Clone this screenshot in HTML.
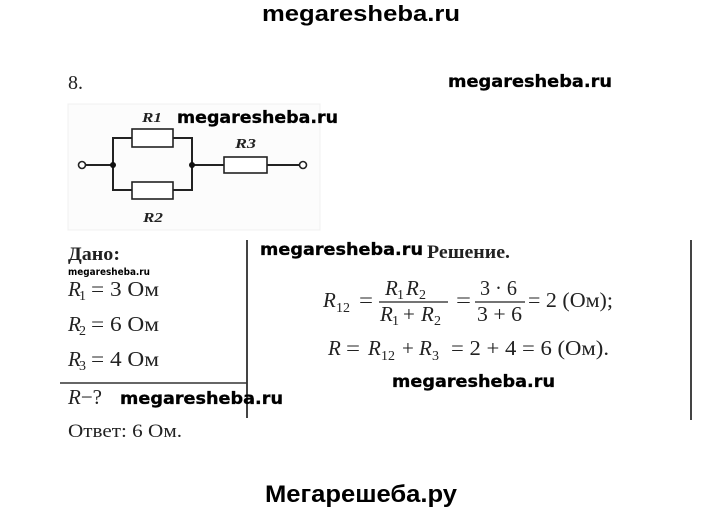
<!DOCTYPE html>
<html>
<head>
<meta charset="utf-8">
<style>
html,body{margin:0;padding:0;background:#fff;}
svg{display:block;}
.wm{font-family:"DejaVu Sans","Liberation Sans",sans-serif;font-weight:bold;fill:#000;}
.ser{font-family:"Liberation Serif","DejaVu Serif",serif;fill:#222;}
.it{font-style:italic;}
</style>
</head>
<body>
<svg width="720" height="513" viewBox="0 0 720 513" xmlns="http://www.w3.org/2000/svg">
<rect x="0" y="0" width="720" height="513" fill="#fff"/>

<!-- top watermark -->
<text x="262" y="21" font-family="Liberation Sans, Arial, sans-serif" font-weight="bold" font-size="22" textLength="198" lengthAdjust="spacingAndGlyphs" fill="#000">megaresheba.ru</text>

<!-- 8. -->
<text class="ser" x="68" y="89" font-size="20">8.</text>
<text class="wm" x="448" y="87" font-size="17" textLength="164" lengthAdjust="spacingAndGlyphs" stroke="#000" stroke-width="0.3">megaresheba.ru</text>

<!-- circuit background -->
<rect x="68" y="104" width="252" height="126" fill="#fcfcfc" stroke="#f0f0f0" stroke-width="1"/>

<!-- circuit -->
<g stroke="#222" fill="none">
  <circle cx="82" cy="165" r="3.5" stroke-width="1.6" fill="#fff"/>
  <line x1="85.5" y1="165" x2="113" y2="165" stroke-width="2"/>
  <line x1="113" y1="137" x2="113" y2="191" stroke-width="2"/>
  <line x1="113" y1="138" x2="132" y2="138" stroke-width="2"/>
  <rect x="132" y="129" width="41" height="18" stroke-width="1.6" fill="#fff"/>
  <line x1="173" y1="138" x2="192" y2="138" stroke-width="2"/>
  <line x1="192" y1="137" x2="192" y2="191" stroke-width="2"/>
  <line x1="113" y1="190" x2="132" y2="190" stroke-width="2"/>
  <rect x="132" y="182" width="41" height="17" stroke-width="1.6" fill="#fff"/>
  <line x1="173" y1="190" x2="192" y2="190" stroke-width="2"/>
  <line x1="192" y1="165" x2="224" y2="165" stroke-width="2"/>
  <rect x="224" y="157" width="43" height="16" stroke-width="1.6" fill="#fff"/>
  <line x1="267" y1="165" x2="299.5" y2="165" stroke-width="2"/>
  <circle cx="303" cy="165" r="3.5" stroke-width="1.6" fill="#fff"/>
</g>
<circle cx="113" cy="165" r="3" fill="#111"/>
<circle cx="192" cy="165" r="3" fill="#111"/>
<text class="ser it" x="142" y="122" font-size="14" font-weight="bold" textLength="20" lengthAdjust="spacingAndGlyphs">R1</text>
<text class="ser it" x="143" y="222" font-size="14" font-weight="bold" textLength="20" lengthAdjust="spacingAndGlyphs">R2</text>
<text class="ser it" x="235" y="148" font-size="14" font-weight="bold" textLength="21" lengthAdjust="spacingAndGlyphs">R3</text>
<text class="wm" x="177" y="123" font-size="17" textLength="161" lengthAdjust="spacingAndGlyphs" stroke="#000" stroke-width="0.3">megaresheba.ru</text>

<!-- divider lines -->
<line x1="247" y1="240" x2="247" y2="418" stroke="#444" stroke-width="2"/>
<line x1="691" y1="240" x2="691" y2="420" stroke="#444" stroke-width="2"/>
<line x1="60" y1="383" x2="247" y2="383" stroke="#333" stroke-width="1.5"/>

<!-- Дано -->
<text class="ser" x="68" y="260" font-size="19" font-weight="bold" textLength="52" lengthAdjust="spacingAndGlyphs">Дано:</text>
<text class="wm" x="68" y="275" font-size="10" textLength="82" lengthAdjust="spacingAndGlyphs">megaresheba.ru</text>

<text class="ser it" x="68" y="296" font-size="21">R</text>
<text class="ser" x="79" y="300" font-size="14">1</text>
<text class="ser" x="91" y="296" font-size="21" textLength="68" lengthAdjust="spacingAndGlyphs">= 3 Ом</text>

<text class="ser it" x="68" y="331" font-size="21">R</text>
<text class="ser" x="79" y="335" font-size="14">2</text>
<text class="ser" x="91" y="331" font-size="21" textLength="68" lengthAdjust="spacingAndGlyphs">= 6 Ом</text>

<text class="ser it" x="68" y="366" font-size="21">R</text>
<text class="ser" x="79" y="370" font-size="14">3</text>
<text class="ser" x="91" y="366" font-size="21" textLength="68" lengthAdjust="spacingAndGlyphs">= 4 Ом</text>

<text class="ser" x="68" y="404" font-size="21"><tspan font-style="italic">R</tspan>−?</text>
<text class="wm" x="120" y="404" font-size="17" textLength="163" lengthAdjust="spacingAndGlyphs" stroke="#000" stroke-width="0.3">megaresheba.ru</text>

<text class="ser" x="68" y="437" font-size="19" textLength="114" lengthAdjust="spacingAndGlyphs">Ответ:  6 Ом.</text>

<!-- Решение -->
<text class="wm" x="260" y="255" font-size="17" textLength="163" lengthAdjust="spacingAndGlyphs" stroke="#000" stroke-width="0.3">megaresheba.ru</text>
<text class="ser" x="427" y="258" font-size="19" font-weight="bold" textLength="83" lengthAdjust="spacingAndGlyphs">Решение.</text>

<!-- formula line 1 -->
<text class="ser it" x="323" y="307" font-size="21">R</text>
<text class="ser" x="336" y="312" font-size="14">12</text>
<text class="ser" x="359" y="307" font-size="21" textLength="14" lengthAdjust="spacingAndGlyphs">=</text>
<text class="ser it" x="385" y="295" font-size="21">R</text>
<text class="ser" x="397" y="299" font-size="14">1</text>
<text class="ser it" x="406" y="295" font-size="21">R</text>
<text class="ser" x="419" y="299" font-size="14">2</text>
<line x1="379" y1="302" x2="448" y2="302" stroke="#222" stroke-width="1.2"/>
<text class="ser it" x="380" y="321" font-size="21">R</text>
<text class="ser" x="392" y="325" font-size="14">1</text>
<text class="ser" x="403" y="321" font-size="21">+</text>
<text class="ser it" x="421" y="321" font-size="21">R</text>
<text class="ser" x="434" y="325" font-size="14">2</text>
<text class="ser" x="456" y="307" font-size="21" textLength="15" lengthAdjust="spacingAndGlyphs">=</text>
<line x1="475" y1="302" x2="525" y2="302" stroke="#222" stroke-width="1.2"/>
<text class="ser" x="480" y="295" font-size="21" textLength="37" lengthAdjust="spacingAndGlyphs">3 · 6</text>
<text class="ser" x="477" y="321" font-size="21" textLength="45" lengthAdjust="spacingAndGlyphs">3 + 6</text>
<text class="ser" x="528" y="307" font-size="21" textLength="85" lengthAdjust="spacingAndGlyphs">= 2 (Ом);</text>

<!-- formula line 2 -->
<text class="ser it" x="328" y="355" font-size="21">R</text>
<text class="ser" x="346" y="355" font-size="21" textLength="14" lengthAdjust="spacingAndGlyphs">=</text>
<text class="ser it" x="368" y="355" font-size="21">R</text>
<text class="ser" x="381" y="360" font-size="14">12</text>
<text class="ser" x="402" y="355" font-size="21">+</text>
<text class="ser it" x="419" y="355" font-size="21">R</text>
<text class="ser" x="432" y="360" font-size="14">3</text>
<text class="ser" x="451" y="355" font-size="21" textLength="158" lengthAdjust="spacingAndGlyphs">= 2 + 4 = 6 (Ом).</text>

<text class="wm" x="392" y="387" font-size="17" textLength="163" lengthAdjust="spacingAndGlyphs" stroke="#000" stroke-width="0.3">megaresheba.ru</text>

<!-- bottom -->
<text x="265" y="502" font-family="Liberation Sans, Arial, sans-serif" font-weight="bold" font-size="24" textLength="192" lengthAdjust="spacingAndGlyphs" fill="#000">Мегарешеба.ру</text>
</svg>
</body>
</html>
